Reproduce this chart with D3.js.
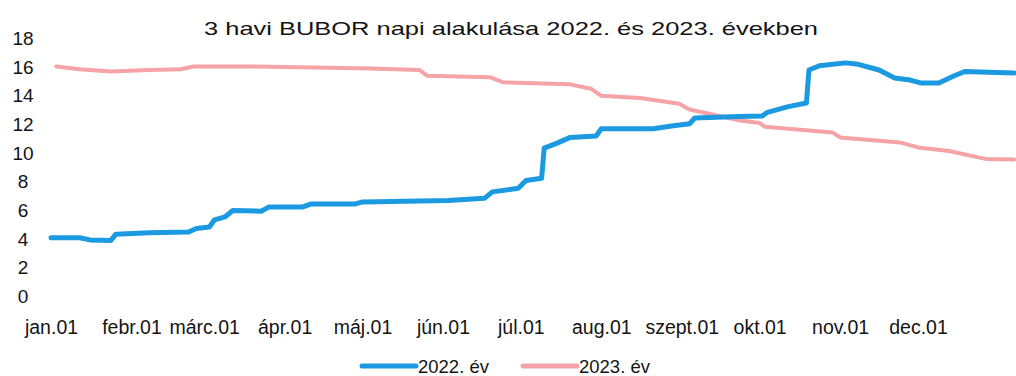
<!DOCTYPE html>
<html>
<head>
<meta charset="utf-8">
<script src="https://cdn.jsdelivr.net/npm/d3@7"></script>
<style>
  html, body { margin: 0; padding: 0; background: #fff; }
  svg { display: block; }
  text { font-family: "Liberation Sans", Arial, sans-serif; fill: #141414; }
</style>
</head>
<body>
<svg id="chart" width="1016" height="376"></svg>
<script>
// 3-month BUBOR daily rates, 2022 vs 2023 (x = day of year)
const monthLabels = ["jan.01", "febr.01", "márc.01", "ápr.01", "máj.01", "jún.01",
                     "júl.01", "aug.01", "szept.01", "okt.01", "nov.01", "dec.01"];
const monthStartDays = [0, 31, 59, 90, 120, 151, 181, 212, 243, 273, 304, 334];
const yTicks = [0, 2, 4, 6, 8, 10, 12, 14, 16, 18];

const days2022 = [0, 11, 15, 23, 25, 38, 53, 56, 61, 63, 67, 70, 81, 84, 97, 100, 117, 120,
                  153, 167, 170, 180, 183, 189, 190, 195, 200, 210, 212, 232, 239, 246, 248,
                  265, 274, 276, 284, 291, 292, 296, 306, 311, 319, 325, 331, 335, 342, 348,
                  352, 361, 371];
const rate2022 = [4.10, 4.10, 3.95, 3.90, 4.35, 4.45, 4.50, 4.75, 4.85, 5.35, 5.55, 6.00, 5.95,
                  6.25, 6.25, 6.45, 6.45, 6.60, 6.70, 6.85, 7.30, 7.55, 8.10, 8.25, 10.35, 10.70,
                  11.10, 11.20, 11.70, 11.70, 11.90, 12.05, 12.45, 12.55, 12.60, 12.85, 13.25,
                  13.50, 15.80, 16.10, 16.30, 16.20, 15.80, 15.25, 15.10, 14.90, 14.90, 15.40,
                  15.70, 15.65, 15.60];

const days2023 = [2, 11, 23, 38, 50, 55, 76, 96, 123, 142, 145, 169, 174, 200, 208, 212, 227,
                  242, 246, 265, 273, 275, 301, 304, 327, 334, 346, 360, 371];
const rate2023 = [16.05, 15.85, 15.70, 15.80, 15.85, 16.05, 16.05, 16.00, 15.90, 15.80, 15.40,
                  15.30, 14.95, 14.80, 14.50, 14.00, 13.85, 13.45, 13.05, 12.30, 12.10, 11.85,
                  11.45, 11.10, 10.75, 10.40, 10.15, 9.60, 9.55];

const seriesNames = ["2022. év", "2023. év"];
const seriesColors = ["#1b9ae2", "#f5a3a7"];

const svg = d3.select("#chart");

const x = d3.scaleLinear().domain([0, 334]).range([51, 918]);
const y = d3.scaleLinear().domain([0, 18]).range([296.5, 38.5]);

// title
svg.append("text")
  .attr("x", 204).attr("y", 35)
  .attr("font-size", 19)
  .attr("textLength", 614)
  .attr("lengthAdjust", "spacingAndGlyphs")
  .text("3 havi BUBOR napi alakulása 2022. és 2023. években");

// y axis labels only
const yAxis = svg.append("g")
  .attr("transform", "translate(23,0)")
  .call(d3.axisLeft(y).tickValues(yTicks).tickSize(0).tickPadding(0));
yAxis.select(".domain").remove();
yAxis.selectAll("text")
  .attr("text-anchor", "middle")
  .attr("font-size", 19)
  .attr("font-family", "\"Liberation Sans\", Arial, sans-serif")
  .attr("fill", "#141414");

// x axis labels only
const xAxis = svg.append("g")
  .attr("transform", "translate(0,320)")
  .call(d3.axisBottom(x).tickValues(monthStartDays).tickSize(0).tickPadding(0)
    .tickFormat((d, i) => monthLabels[i]));
xAxis.select(".domain").remove();
xAxis.selectAll("text")
  .attr("font-size", 19.5)
  .attr("font-family", "\"Liberation Sans\", Arial, sans-serif")
  .attr("fill", "#141414");

const line = d3.line()
  .x(d => x(d[0]))
  .y(d => y(d[1]))
  .curve(d3.curveLinear);

const data2023 = days2023.map((d, i) => [d, rate2023[i]]);
const data2022 = days2022.map((d, i) => [d, rate2022[i]]);

svg.append("path")
  .datum(data2023)
  .attr("fill", "none")
  .attr("stroke", seriesColors[1])
  .attr("stroke-width", 4)
  .attr("stroke-linejoin", "round")
  .attr("stroke-linecap", "round")
  .attr("d", line);

svg.append("path")
  .datum(data2022)
  .attr("fill", "none")
  .attr("stroke", seriesColors[0])
  .attr("stroke-width", 5)
  .attr("stroke-linejoin", "round")
  .attr("stroke-linecap", "round")
  .attr("d", line);

// legend
const legendItems = [
  { name: seriesNames[0], color: seriesColors[0], x: 362 },
  { name: seriesNames[1], color: seriesColors[1], x: 523 }
];
const lg = svg.append("g").attr("class", "legend");
legendItems.forEach(item => {
  lg.append("line")
    .attr("x1", item.x).attr("x2", item.x + 54)
    .attr("y1", 366).attr("y2", 366)
    .attr("stroke", item.color)
    .attr("stroke-width", 5)
    .attr("stroke-linecap", "round");
  lg.append("text")
    .attr("x", item.x + 56).attr("y", 366)
    .attr("dy", "0.36em")
    .attr("font-size", 18.5)
    .text(item.name);
});
</script>
</body>
</html>
